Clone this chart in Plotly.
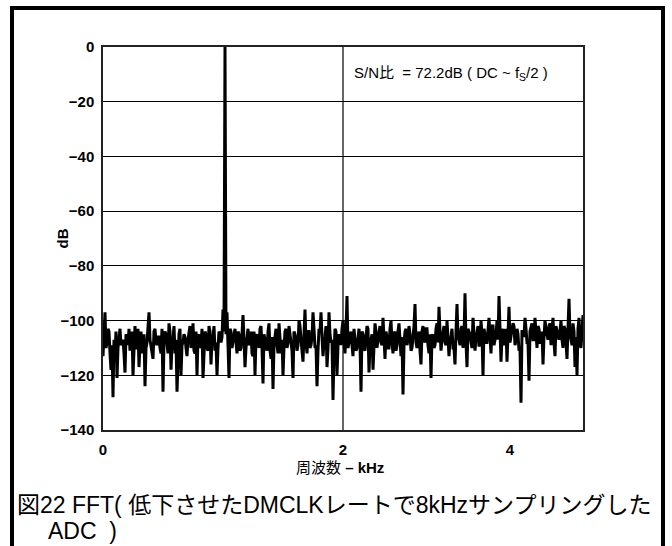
import plotly.graph_objects as go

# ---- data ----
freq_step_khz = 4.0 / 480
# bins read at every other pixel column
db_main = [
    -113, -97, -108, -104, -118, -128, -112, -121, -106, -109,
    -107, -119, -106, -103, -108, -120, -102, -110, -117, -104,
    -107, -124, -108, -97, -110, -114, -103, -109, -106, -112,
    -126, -104, -110, -101, -118, -107, -112, -126, -105, -120,
    -108, -106, -113, -104, -110, -101, -112, -120, -105, -109,
    -121, -104, -110, -102, -116, -106, -111, -120, -104, -108,
    -96, 0, -97, -121, -104, -108, -103, -112, -105, -110,
    -98, -117, -106, -109, -104, -113, -120, -105, -110, -102,
    -123, -107, -111, -101, -114, -125, -106, -109, -101, -112,
    -120, -104, -110, -102, -108, -121, -105, -111, -100, -107,
    -115, -96, -112, -104, -109, -97, -110, -124, -103, -97,
    -113, -106, -117, -97, -108, -129, -103, -120, -105, -109,
    -100, -112, -91, -108, -104, -113, -106, -110, -103, -126,
    -105, -111, -102, -119, -107, -118, -101, -110, -105, -108,
    -99, -114, -106, -110, -100, -112, -104, -109, -101, -113,
    -127, -104, -109, -102, -111, -106, -94, -110, -104, -116,
    -102, -108, -103, -112, -121, -105, -109, -101, -95, -111,
    -104, -108, -100, -113, -106, -110, -116, -94, -107, -103,
    -110, -90, -117, -104, -108, -99, -111, -103, -109, -100,
    -120, -105, -108, -99, -112, -102, -107, -100, -91, -115,
    -103, -107, -115, -95, -106, -101, -109, -103, -111, -130,
    -104, -99, -108, -122, -102, -107, -99, -110, -103, -108,
    -116, -100, -106, -102, -109, -99, -113, -104, -107, -100,
    -110, -103, -114, -92, -108, -101, -117, -120, -99, -110,
    -98,
]
# bins in the pixel columns between them (dense noise band)
db_between = [
    -106, -110, -103, -112, -109, -107, -104, -110, -103, -108,
    -112, -105, -109, -111, -104, -106, -110, -103, -109, -112,
    -105, -110, -102, -107, -111, -104, -108, -106, -110, -103,
    -108, -105, -112, -104, -109, -102, -107, -111, -103, -109,
    -105, -110, -107, -102, -108, -111, -104, -106, -110, -103,
    -109, -105, -111, -104, -107, -102, -108, -110, -105, -106,
    -104, -105, -109, -103, -110, -106, -108, -104, -111, -105,
    -107, -110, -103, -108, -112, -104, -106, -109, -103, -110,
    -105, -108, -104, -111, -106, -109, -103, -112, -105, -107,
    -110, -103, -108, -105, -111, -104, -107, -109, -102, -110,
    -105, -108, -104, -110, -106, -103, -109, -111, -104, -106,
    -108, -102, -110, -105, -107, -112, -104, -109, -106, -103,
    -108, -104, -110, -105, -109, -103, -111, -106, -108, -104,
    -110, -106, -103, -109, -105, -111, -104, -107, -102, -109,
    -106, -104, -110, -103, -108, -105, -111, -104, -107, -106,
    -109, -103, -107, -105, -110, -102, -108, -106, -111, -104,
    -107, -103, -109, -105, -106, -110, -103, -108, -104, -107,
    -102, -109, -105, -107, -103, -110, -104, -106, -109, -102,
    -106, -108, -103, -105, -110, -104, -107, -102, -109, -105,
    -103, -108, -104, -106, -102, -109, -105, -107, -104, -106,
    -109, -103, -105, -108, -104, -102, -107, -105, -110, -104,
    -106, -103, -108, -104, -101, -107, -105, -102, -108, -104,
    -106, -103, -107, -101, -105, -108, -102, -106, -104, -107,
    -102, -108, -103, -105, -109, -104, -106, -103, -108, -105,
]

db_values = []
for k, v in enumerate(db_main):
    db_values.append(v)
    if k < len(db_between):
        db_values.append(db_between[k])
freq_khz = [i * freq_step_khz for i in range(len(db_values))]

y_ticks = [0, -20, -40, -60, -80, -100, -120, -140]
x_tick_vals = [0, 2, 3.39]
x_tick_text = ["0", "2", "4"]
x_grid = [2]

# ---- figure ----
W, H = 672, 546
L, R, T, B = 103, 89, 47, 116
pw, ph = W - L - R, H - T - B

def px_x(p):
    return (p - L) / pw

def px_y(p):
    return (H - B - p) / ph

fig = go.Figure()
fig.add_trace(go.Scatter(
    x=freq_khz, y=db_values, mode="lines",
    line=dict(color="black", width=3), hoverinfo="skip", showlegend=False,
))

tickfont = dict(family="Liberation Sans, Arial, sans-serif", size=15, color="black", weight="bold")

fig.update_layout(
    width=W, height=H,
    margin=dict(l=L, r=R, t=T, b=B),
    paper_bgcolor="white", plot_bgcolor="white",
    showlegend=False,
    xaxis=dict(
        range=[0, 4], tickmode="array", tickvals=x_tick_vals, ticktext=x_tick_text,
        showgrid=False, zeroline=False, showline=True, mirror=True,
        linecolor="#222", linewidth=1.5, ticks="", tickfont=tickfont,
        ticklabelstandoff=5,
    ),
    yaxis=dict(
        range=[-140, 0], tickmode="array", tickvals=y_ticks,
        showgrid=True, gridcolor="black", gridwidth=1,
        zeroline=False, showline=True, mirror=True,
        linecolor="#222", linewidth=1.5, ticks="", tickfont=tickfont,
        ticklabelstandoff=4,
    ),
)

for gx in x_grid:
    fig.add_shape(type="line", xref="x", yref="paper", x0=gx, x1=gx, y0=0, y1=1,
                  line=dict(color="black", width=1.2), layer="below")

# outer frame
fig.add_shape(type="rect", xref="paper", yref="paper",
              x0=px_x(12), x1=px_x(663), y0=px_y(575), y1=px_y(8),
              line=dict(color="black", width=4), fillcolor="rgba(0,0,0,0)")

cjk = "Liberation Sans, Arial, Noto Sans CJK JP, sans-serif"

fig.add_annotation(
    xref="paper", yref="paper", x=px_x(62), y=0.5, text="<b>dB</b>", textangle=-90,
    showarrow=False, font=dict(family=cjk, size=15, color="black"),
    xanchor="center", yanchor="middle",
)
fig.add_annotation(
    xref="paper", yref="paper", x=px_x(340), y=px_y(467),
    text="周波数 <b>– kHz</b>", showarrow=False,
    font=dict(family=cjk, size=15, color="black"), xanchor="center", yanchor="middle",
)
fig.add_annotation(
    xref="paper", yref="paper", x=px_x(352), y=px_y(73),
    text="S/N比  = 72.2dB ( DC ~ f<sub>S</sub>/2 )", showarrow=False,
    font=dict(family=cjk, size=15, color="black"), xanchor="left", yanchor="middle",
)
fig.add_annotation(
    xref="paper", yref="paper", x=px_x(15), y=px_y(505),
    text="図22 FFT( 低下させたDMCLKレートで8kHzサンプリングした", showarrow=False,
    font=dict(family=cjk, size=23, color="black"), xanchor="left", yanchor="middle",
)
fig.add_annotation(
    xref="paper", yref="paper", x=px_x(46), y=px_y(531),
    text="ADC  )", showarrow=False,
    font=dict(family=cjk, size=23, color="black"), xanchor="left", yanchor="middle",
)

fig.write_html("out.html")
